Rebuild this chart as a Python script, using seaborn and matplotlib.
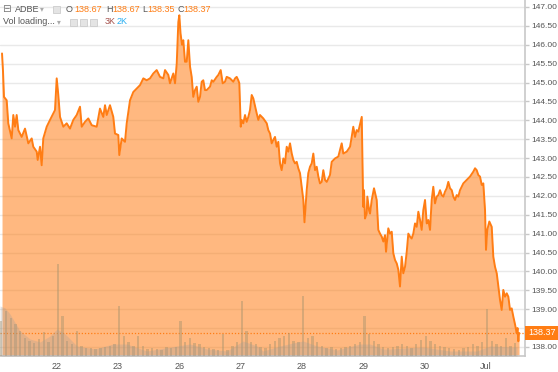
import matplotlib
matplotlib.use("Agg")
import matplotlib.pyplot as plt
import matplotlib.transforms as mtransforms
from matplotlib.patches import Rectangle
import seaborn as sns

# x axis = trading-session index (1 = Jun 22 ... 8 = Jul 3), fraction = time inside session
day_ticks = [1, 2, 3, 4, 5, 6, 7, 8]
day_labels = ["22", "23", "26", "27", "28", "29", "30", "Jul"]

price_t = [
    0.108, 0.124, 0.140, 0.184, 0.210, 0.266, 0.292, 0.320, 0.347, 0.374, 0.429, 0.483,
    0.537, 0.592, 0.618, 0.674, 0.690, 0.728, 0.755, 0.781, 0.837, 0.891, 0.945, 0.972,
    1.000, 1.026, 1.054, 1.108, 1.163, 1.217, 1.271, 1.326, 1.380, 1.408, 1.462, 1.515,
    1.571, 1.653, 1.706, 1.760, 1.788, 1.816, 1.869, 1.923, 1.951, 2.005, 2.021, 2.060,
    2.114, 2.142, 2.196, 2.250, 2.305, 2.359, 2.413, 2.468, 2.522, 2.576, 2.631, 2.685,
    2.739, 2.767, 2.821, 2.848, 2.902, 2.930, 2.958, 2.984, 3.000, 3.020, 3.044, 3.065,
    3.093, 3.121, 3.147, 3.175, 3.202, 3.228, 3.256, 3.284, 3.310, 3.338, 3.365, 3.391,
    3.419, 3.447, 3.501, 3.529, 3.555, 3.610, 3.636, 3.675, 3.708, 3.745, 3.773, 3.827,
    3.881, 3.909, 3.936, 3.962, 3.979, 4.002, 4.018, 4.044, 4.072, 4.099, 4.126, 4.153,
    4.181, 4.207, 4.263, 4.289, 4.316, 4.370, 4.426, 4.452, 4.480, 4.507, 4.533, 4.561,
    4.589, 4.615, 4.643, 4.670, 4.697, 4.724, 4.752, 4.778, 4.806, 4.834, 4.860, 4.887,
    4.915, 4.941, 4.969, 4.997, 5.023, 5.042, 5.078, 5.104, 5.132, 5.160, 5.186, 5.214,
    5.241, 5.268, 5.295, 5.323, 5.349, 5.377, 5.405, 5.458, 5.486, 5.540, 5.594, 5.649,
    5.675, 5.731, 5.785, 5.812, 5.838, 5.866, 5.894, 5.920, 5.948, 5.976, 6.000, 6.013,
    6.029, 6.057, 6.067, 6.095, 6.111, 6.139, 6.176, 6.220, 6.246, 6.274, 6.302, 6.328,
    6.356, 6.372, 6.409, 6.437, 6.465, 6.491, 6.519, 6.547, 6.573, 6.600, 6.628, 6.654,
    6.682, 6.710, 6.736, 6.763, 6.791, 6.817, 6.845, 6.873, 6.899, 6.927, 6.954, 6.980,
    7.008, 7.036, 7.062, 7.090, 7.117, 7.143, 7.171, 7.199, 7.225, 7.253, 7.280, 7.307,
    7.334, 7.362, 7.388, 7.416, 7.444, 7.470, 7.498, 7.525, 7.551, 7.579, 7.607, 7.633,
    7.688, 7.742, 7.796, 7.824, 7.851, 7.878, 7.905, 7.933, 7.959, 7.987, 8.003, 8.024,
    8.057, 8.096, 8.122, 8.150, 8.178, 8.204, 8.232, 8.259, 8.285, 8.313, 8.341, 8.367,
    8.395, 8.422, 8.449, 8.476, 8.504, 8.517, 8.530, 8.542,
]
price = [
    145.77, 145.30, 144.62, 144.53, 143.92, 143.52, 144.14, 143.83, 144.14, 143.74, 143.56, 143.78,
    143.39, 143.52, 143.30, 143.17, 142.95, 143.30, 142.81, 143.52, 143.83, 144.01, 144.18, 144.27,
    145.11, 144.67, 144.09, 143.83, 143.92, 143.78, 144.01, 144.14, 144.36, 143.83, 143.96, 144.05,
    143.87, 143.83, 144.31, 144.09, 144.40, 144.14, 144.40, 144.09, 143.65, 143.61, 143.08, 143.52,
    143.43, 143.92, 144.53, 144.75, 144.84, 144.93, 145.11, 145.06, 145.11, 145.24, 145.33, 145.15,
    145.11, 145.33, 145.20, 144.98, 145.24, 144.98, 145.50, 146.60, 146.78, 146.30, 146.00, 146.12,
    145.55, 145.55, 146.12, 145.42, 145.15, 144.62, 144.80, 144.89, 144.49, 144.62, 145.02, 145.06,
    144.80, 144.80, 144.89, 145.06, 145.02, 145.15, 145.20, 145.33, 144.98, 145.02, 145.15, 145.11,
    145.02, 145.11, 145.15, 145.06, 144.98, 143.83, 144.01, 143.92, 144.14, 143.96, 144.09, 144.27,
    144.67, 144.58, 144.18, 144.01, 144.14, 144.05, 143.92, 143.74, 143.65, 143.39, 143.48, 143.56,
    143.30, 143.43, 142.86, 142.68, 142.99, 142.86, 143.30, 143.17, 143.39, 143.12, 142.95, 142.86,
    142.90, 142.73, 142.60, 142.24, 141.89, 141.30, 142.15, 142.60, 142.77, 142.86, 143.12, 142.68,
    142.77, 142.51, 142.33, 142.37, 142.68, 142.42, 142.37, 142.55, 142.90, 142.99, 143.04, 143.39,
    143.12, 143.17, 143.30, 143.56, 143.83, 143.56, 143.74, 143.70, 143.90, 144.09, 141.71, 142.15,
    141.40, 141.53, 141.98, 141.62, 141.53, 141.89, 142.20, 141.89, 141.10, 141.00, 140.92, 140.79,
    140.96, 140.52, 141.14, 141.00, 141.05, 140.48, 140.30, 140.21, 140.04, 139.60, 140.39, 139.95,
    140.12, 140.52, 141.00, 140.92, 140.87, 141.00, 141.27, 141.18, 141.58, 141.36, 141.10, 141.62,
    141.89, 141.27, 141.36, 141.10, 141.89, 142.24, 141.80, 141.98, 142.02, 142.15, 142.02, 141.98,
    142.11, 142.20, 142.37, 142.20, 142.15, 141.98, 141.89, 142.02, 141.98, 142.15, 142.24, 142.33,
    142.42, 142.51, 142.64, 142.73, 142.68, 142.55, 142.51, 142.29, 142.33, 141.62, 140.57, 141.10,
    141.32, 141.18, 140.39, 140.12, 139.95, 139.60, 139.24, 138.98, 139.51, 139.33, 139.42, 139.33,
    138.98, 139.02, 138.80, 138.60, 138.36, 138.50, 138.15, 138.37,
]
last_price = 138.37

# 30-minute volume bars (thousands of shares), 13 per session; Jun 21 starts with its 2nd bar
vol_jun21 = [35, 45, 38, 32, 25, 18, 15, 13, 17, 24, 14, 20]
vol_jun22 = [92, 40, 15, 12, 25, 10, 8, 8, 7, 8, 9, 10, 12]
vol_jun23 = [50, 20, 14, 10, 20, 10, 7, 8, 7, 6, 9, 8, 9]
vol_jun26 = [35, 14, 18, 13, 12, 9, 8, 7, 6, 22, 6, 10, 14]
vol_jun27 = [55, 25, 14, 12, 9, 8, 12, 15, 18, 20, 23, 15, 14]
vol_jun28 = [60, 18, 20, 14, 10, 8, 9, 7, 8, 9, 10, 12, 14]
vol_jun29 = [40, 22, 15, 12, 9, 8, 9, 10, 12, 10, 8, 12, 16]
vol_jun30 = [20, 15, 12, 10, 9, 8, 7, 6, 8, 9, 12, 10, 14]
vol_jul03 = [47, 15, 12, 10, 18, 10, 13]
bars_per_session = 13

# smoothed volume (grey area)
vol_avg_t = [0.075, 0.157, 0.238, 0.401, 0.564, 0.728, 0.891, 1.005, 1.136, 1.331, 1.625, 1.918,
             2.147, 2.277, 2.473, 2.767, 2.962, 3.175, 3.452, 3.778, 4.039, 4.267, 4.365, 4.643,
             4.855, 5.018, 5.247, 5.573, 5.948, 6.111, 6.323, 6.437, 6.975, 7.416, 7.856, 8.068,
             8.443, 8.508]
vol_avg = [50, 48, 42, 25, 17, 14, 20, 27, 22, 10, 7, 12, 12, 9, 5, 8, 10, 12, 7, 5, 15, 10, 5, 10,
           13, 15, 10, 6, 12, 12, 7, 7, 9, 5, 5, 10, 9, 9]

ORANGE = "#ff7d14"
GREY_TXT = "#555555"
FS = 6.0

sns.set_style("white")
plt.rcParams["font.family"] = ["Liberation Sans", "DejaVu Sans"]

fig = plt.figure(figsize=(5.58, 3.72), dpi=100)
ax = fig.add_axes([0, 16 / 372, 525 / 558, 356 / 372])

ax.yaxis.grid(True, color="#e9e9e9", lw=1)
ax.set_axisbelow(True)
ax.fill_between(price_t, price, 137.76, color=ORANGE, alpha=0.54, lw=0)
sns.lineplot(x=price_t, y=price, color=ORANGE, lw=1.4, ax=ax, sort=False)
ax.axhline(last_price, color=ORANGE, lw=0.9, ls=(0, (1, 1.5)))
ax.set_xlabel("")
ax.set_ylabel("")

# volume overlay
ax_vol = ax.twinx()
ax_vol.patch.set_visible(False)
sessions = [vol_jun21, vol_jun22, vol_jun23, vol_jun26, vol_jun27,
            vol_jun28, vol_jun29, vol_jun30, vol_jul03]
vt, vv = [], []
for d, vals in enumerate(sessions):
    start = 1 if d == 0 else 0
    for k, v in enumerate(vals):
        vt.append(d + (start + k) / bars_per_session)
        vv.append(v)
ax_vol.bar(vt, vv, width=0.5 / bars_per_session, color="#a8946e", alpha=0.45, lw=0, align="edge")
ax_vol.fill_between(vol_avg_t, vol_avg, 0, color="#9c9c9c", alpha=0.28, lw=0)
ax_vol.set_ylim(0, 356)
ax_vol.set_yticks([])
for s in ax_vol.spines.values():
    s.set_visible(False)

# price axis (set after twinx, which moves ticks to the left)
ax.set_xlim(0.075, 8.639)
ax.set_ylim(137.76, 147.185)
ax.set_yticks([138 + 0.5 * i for i in range(19)])
ax.yaxis.set_major_formatter(matplotlib.ticker.FormatStrFormatter("%.2f"))
ax.yaxis.tick_right()
ax.set_xticks(day_ticks)
ax.set_xticklabels(day_labels)
ax.tick_params(axis="both", colors="#c8c8c8", labelcolor=GREY_TXT, labelsize=FS + 0.5,
               length=3, width=1, direction="out", pad=1.5)
ax.tick_params(axis="y", labelsize=FS)
for s in ("left", "top"):
    ax.spines[s].set_visible(False)
for s in ("right", "bottom"):
    ax.spines[s].set_visible(True)
    ax.spines[s].set_color("#c8c8c8")
    ax.spines[s].set_linewidth(1.2)

# last-price tag on the right axis
trans = mtransforms.blended_transform_factory(ax.transAxes, ax.transData)
ax.text(1.006, last_price, "138.37", transform=trans, ha="left", va="center", fontsize=FS + 0.5,
        color="white", zorder=10, clip_on=False,
        bbox=dict(boxstyle="square,pad=0.3", fc=ORANGE, ec="none"))

# header legend
W, H = 558, 372


def hdr(x, y, s, color=GREY_TXT, size=FS + 0.5, **kw):
    fig.text(x / W, 1 - y / H, s, color=color, fontsize=size, va="center", ha="left", **kw)


def icon(x, y, w=7, h=7):
    fig.patches.append(Rectangle((x / W, 1 - (y + h / 2) / H), w / W, h / H,
                                 transform=fig.transFigure, fc="#e4e4e4", ec="#cccccc", lw=0.6))


hdr(2, 9, "\u229f", color="#777777", size=7.5, family="DejaVu Sans")
hdr(15, 9, "ADBE")
hdr(40, 9, "\u25be", color="#aaaaaa", size=5.5, family="DejaVu Sans")
icon(53, 9)
hdr(66, 9, "O")
hdr(74, 9, "138.67", color=ORANGE)
hdr(106, 9, "H")
hdr(112, 9, "138.67", color=ORANGE)
hdr(142, 9, "L")
hdr(147, 9, "138.35", color=ORANGE)
hdr(177, 9, "C")
hdr(183, 9, "138.37", color=ORANGE)
hdr(3, 22, "Vol loading...")
hdr(57, 22, "\u25be", color="#aaaaaa", size=5.5, family="DejaVu Sans")
icon(70, 22)
icon(80, 22)
icon(90, 22)
hdr(105, 22, "3K", color="#a4504a")
hdr(117, 22, "2K", color="#28aef0")

fig.savefig("out.png", dpi=100)
